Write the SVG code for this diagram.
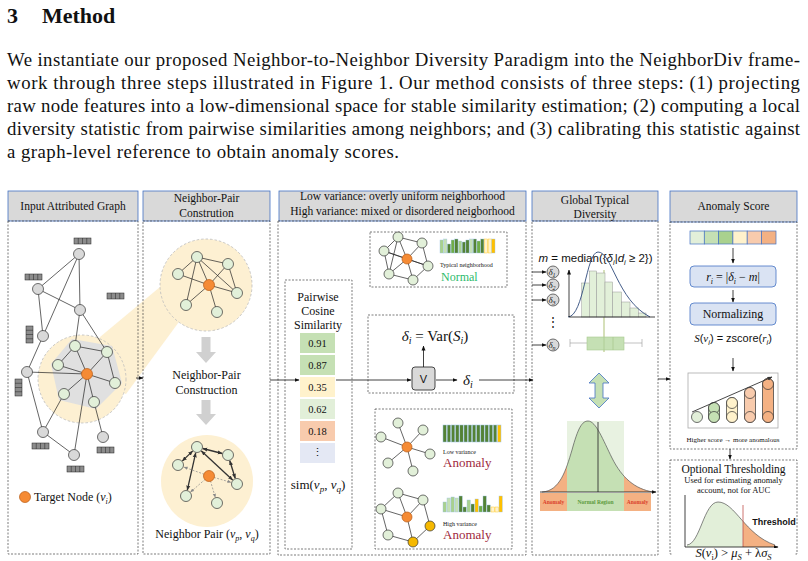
<svg xmlns="http://www.w3.org/2000/svg" width="808" height="561" viewBox="0 0 808 561">
<style>
text{font-family:"Liberation Serif","Times New Roman",serif;fill:#111}
.sans{font-family:"Liberation Sans",Arial,sans-serif}
.hdr{fill:#d9d9d9;stroke:#4472c4;stroke-width:0.8}
.dash{fill:none;stroke:#444;stroke-width:0.7;stroke-dasharray:2,1.5}
.e{stroke:#222;stroke-width:0.7;fill:none}
.gn{fill:#d9d9d9;stroke:#333;stroke-width:0.7}
.ln{fill:#e2f0d9;stroke:#333;stroke-width:0.7}
.on{fill:#f58b35;stroke:#b85a14;stroke-width:0.7}
.yn{fill:#f5b800;stroke:#333;stroke-width:0.7}
.fb{fill:#8c8c8c;stroke:#222;stroke-width:0.5}
.cn{stroke:#111;stroke-width:0.8;fill:none}
.hd{font-size:11.5px;text-anchor:middle}
.body{font-size:18.8px}
.dc{fill:#d9d9d9;stroke:#333;stroke-width:0.7}
.bx{fill:#dae3f3;stroke:#4472c4;stroke-width:0.8}
</style>
<defs>
<marker id="ah" viewBox="0 0 10 10" refX="9" refY="5" markerWidth="5" markerHeight="5" orient="auto-start-reverse" markerUnits="userSpaceOnUse"><path d="M0,1 L10,5 L0,9 z" fill="#111"/></marker>
<marker id="ah2" viewBox="0 0 10 10" refX="9" refY="5" markerWidth="5" markerHeight="5" orient="auto-start-reverse" markerUnits="userSpaceOnUse"><path d="M0,1 L10,5 L0,9 z" fill="#333"/></marker>
<marker id="ahg" viewBox="0 0 10 10" refX="9" refY="5" markerWidth="4" markerHeight="4" orient="auto" markerUnits="userSpaceOnUse"><path d="M0,1 L10,5 L0,9 z" fill="#888"/></marker>
<g id="fbh"><rect width="17" height="6" class="fb"/><path d="M4.25 0v6M8.5 0v6M12.75 0v6" stroke="#222" stroke-width="0.5"/></g>
<g id="fbv"><rect width="7" height="17" class="fb"/><path d="M0 4.25h7M0 8.5h7M0 12.75h7" stroke="#222" stroke-width="0.5"/></g>
<clipPath id="cL"><rect x="530" y="400" width="37" height="100"/></clipPath>
<clipPath id="cM"><rect x="567" y="400" width="57" height="100"/></clipPath>
<clipPath id="cR"><rect x="624" y="400" width="40" height="100"/></clipPath>
<clipPath id="tL"><rect x="680" y="490" width="63" height="60"/></clipPath>
<clipPath id="tR"><rect x="743" y="490" width="50" height="60"/></clipPath>
</defs>

<!-- Heading and paragraph -->
<g id="textblock">
<text x="7" y="23" font-size="22" font-weight="bold">3</text>
<text x="42" y="23" font-size="22" font-weight="bold">Method</text>
<text class="body" x="7" y="66" textLength="793" lengthAdjust="spacing">We instantiate our proposed Neighbor-to-Neighbor Diversity Paradigm into the NeighborDiv frame-</text>
<text class="body" x="7" y="89" textLength="793" lengthAdjust="spacing">work through three steps illustrated in Figure 1. Our method consists of three steps: (1) projecting</text>
<text class="body" x="7" y="112" textLength="793" lengthAdjust="spacing">raw node features into a low-dimensional space for stable similarity estimation; (2) computing a local</text>
<text class="body" x="7" y="135" textLength="793" lengthAdjust="spacing">diversity statistic from pairwise similarities among neighbors; and (3) calibrating this statistic against</text>
<text class="body" x="7" y="158" textLength="392" lengthAdjust="spacing">a graph-level reference to obtain anomaly scores.</text>
</g>

<!-- zoom beam -->
<g id="beam">
<polygon points="100,337 160,287 206,285 173,330 126,394 82,379" fill="#fdf0d2"/>
<circle cx="82" cy="379" r="44" fill="#fdf0d2" stroke="#bbb" stroke-width="0.8" stroke-dasharray="2.5,2"/>
<circle cx="206" cy="285" r="46" fill="#fdf0d2" stroke="#bbb" stroke-width="0.8" stroke-dasharray="2.5,2"/>
</g>

<!-- Panel 1 -->
<g id="panel1">
<rect class="hdr" x="8" y="191" width="130" height="30"/>
<text class="hd" x="73" y="210">Input Attributed Graph</text>
<rect class="dash" x="8" y="221" width="130" height="333"/>
<polygon points="72,339 112,346 122,383 96,409 59,400 51,364" fill="#e0e0e0"/>
<g class="e">
<line x1="79" y1="254" x2="38" y2="289"/><line x1="79" y1="254" x2="80" y2="310"/><line x1="79" y1="254" x2="43" y2="336"/>
<line x1="38" y1="289" x2="80" y2="310"/><line x1="38" y1="289" x2="43" y2="336"/><line x1="43" y1="336" x2="27" y2="372"/>
<line x1="80" y1="310" x2="75" y2="346"/><line x1="80" y1="310" x2="107" y2="352"/>
<line x1="27" y1="372" x2="87" y2="374"/><line x1="27" y1="372" x2="43" y2="432"/><line x1="43" y1="432" x2="64" y2="394"/>
<line x1="43" y1="432" x2="74" y2="455"/><line x1="74" y1="455" x2="87" y2="374"/><line x1="94" y1="402" x2="103" y2="437"/>
<line x1="87" y1="374" x2="75" y2="346"/><line x1="87" y1="374" x2="107" y2="352"/><line x1="87" y1="374" x2="58" y2="365"/>
<line x1="87" y1="374" x2="115" y2="383"/><line x1="87" y1="374" x2="64" y2="394"/><line x1="87" y1="374" x2="94" y2="402"/>
<line x1="75" y1="346" x2="107" y2="352"/><line x1="75" y1="346" x2="58" y2="365"/><line x1="107" y1="352" x2="115" y2="383"/>
</g>
<g id="p1nodes">
<circle id="nA" class="gn" cx="79" cy="254" r="5.5"/><circle id="nB" class="gn" cx="38" cy="289" r="5.5"/>
<circle id="nC" class="gn" cx="80" cy="310" r="5.5"/><circle id="nD" class="gn" cx="43" cy="336" r="5.5"/>
<circle id="nH" class="gn" cx="27" cy="372" r="5.5"/><circle id="nL" class="gn" cx="43" cy="432" r="5.5"/>
<circle id="nN" class="gn" cx="74" cy="455" r="5.5"/><circle id="nM" class="gn" cx="103" cy="437" r="5.5"/>
<circle id="nE" class="ln" cx="75" cy="346" r="5.5"/><circle id="nF" class="ln" cx="107" cy="352" r="5.5"/>
<circle id="nG" class="ln" cx="58" cy="365" r="5.5"/><circle id="nI" class="ln" cx="115" cy="383" r="5.5"/>
<circle id="nJ" class="ln" cx="64" cy="394" r="5.5"/><circle id="nK" class="ln" cx="94" cy="402" r="5.5"/>
<circle id="nO" class="on" cx="87" cy="374" r="5.5"/>
</g>
<use href="#fbh" x="74" y="238"/><use href="#fbh" x="25" y="274"/><use href="#fbh" x="107" y="293"/>
<use href="#fbv" x="26" y="326"/><use href="#fbv" x="15" y="379"/>
<use href="#fbh" x="32" y="443"/><use href="#fbh" x="97" y="447"/><use href="#fbh" x="67" y="466"/>
<circle class="on" cx="25" cy="497" r="5.5"/>
<text x="34" y="501" font-size="12">Target Node (<tspan font-style="italic">v</tspan><tspan font-style="italic" font-size="8" dy="2.5">i</tspan><tspan dy="-2.5">)</tspan></text>
</g>

<!-- Panel 2 -->
<g id="panel2">
<rect class="hdr" x="143" y="191" width="127" height="30"/>
<text class="hd" x="206.5" y="202">Neighbor-Pair</text>
<text class="hd" x="206.5" y="217">Constrution</text>
<rect class="dash" x="143" y="221" width="127" height="333"/>
<g class="e">
<line x1="197" y1="257" x2="228" y2="264"/><line x1="197" y1="257" x2="178" y2="274"/><line x1="197" y1="257" x2="209" y2="285"/>
<line x1="197" y1="257" x2="237" y2="293"/><line x1="197" y1="257" x2="186" y2="305"/><line x1="228" y1="264" x2="209" y2="285"/>
<line x1="228" y1="264" x2="237" y2="293"/><line x1="178" y1="274" x2="209" y2="285"/><line x1="209" y1="285" x2="237" y2="293"/>
<line x1="209" y1="285" x2="186" y2="305"/><line x1="209" y1="285" x2="217" y2="312"/>
</g>
<circle class="ln" cx="197" cy="257" r="5.5"/><circle class="ln" cx="228" cy="264" r="5.5"/><circle class="ln" cx="178" cy="274" r="5.5"/>
<circle class="ln" cx="237" cy="293" r="5.5"/><circle class="ln" cx="186" cy="305" r="5.5"/><circle class="ln" cx="217" cy="312" r="5.5"/>
<circle class="on" cx="209" cy="285" r="5.5"/>
<polygon points="201.5,337 210.5,337 210.5,352 216,352 206,363 196,352 201.5,352" fill="#d0d0d0"/>
<text x="206.5" y="379" font-size="12" text-anchor="middle">Neighbor-Pair</text>
<text x="206.5" y="394" font-size="12" text-anchor="middle">Construction</text>
<polygon points="201.5,400 210.5,400 210.5,414 216,414 206,425 196,414 201.5,414" fill="#d0d0d0"/>
<circle cx="207" cy="481" r="46" fill="#fdf0d2"/>
<g stroke="#333" stroke-width="1.3" marker-start="url(#ah2)" marker-end="url(#ah2)">
<line x1="202.8" y1="448.5" x2="222.2" y2="453.5"/><line x1="192.6" y1="451.1" x2="182.4" y2="460.9"/>
<line x1="201.4" y1="451.1" x2="232.6" y2="479.9"/><line x1="195.7" y1="452.9" x2="187.3" y2="490.1"/>
<line x1="229.8" y1="460.7" x2="235.2" y2="478.3"/>
</g>
<g stroke="#888" stroke-width="0.7" stroke-dasharray="2,1.5" marker-end="url(#ahg)">
<line x1="204.3" y1="474.3" x2="184" y2="467.1"/><line x1="213.8" y1="477.4" x2="231" y2="482.3"/>
<line x1="205.2" y1="479.3" x2="190.5" y2="492.1"/><line x1="210.4" y1="480.8" x2="215.3" y2="497.3"/>
</g>
<circle class="ln" cx="197" cy="447" r="5.5"/><circle class="ln" cx="228" cy="455" r="5.5"/><circle class="ln" cx="178" cy="465" r="5.5"/>
<circle class="ln" cx="237" cy="484" r="5.5"/><circle class="ln" cx="186" cy="496" r="5.5"/><circle class="ln" cx="217" cy="503" r="5.5"/>
<circle class="on" cx="209" cy="476" r="5.5"/>
<text x="207" y="538" font-size="12" text-anchor="middle">Neighbor Pair (<tspan font-style="italic">v</tspan><tspan font-style="italic" font-size="8" dy="2.5">p</tspan><tspan dy="-2.5">, </tspan><tspan font-style="italic">v</tspan><tspan font-style="italic" font-size="8" dy="2.5">q</tspan><tspan dy="-2.5">)</tspan></text>
</g>

<!-- Panel 3 -->
<g id="panel3">
<rect class="hdr" x="279" y="191" width="247" height="30"/>
<text class="hd" x="402.5" y="200" font-size="11.8">Low variance: overly uniform neighborhood</text>
<text class="hd" x="402.5" y="215" font-size="11.8">High variance: mixed or disordered neigborhood</text>
<rect class="dash" x="278" y="221" width="248" height="334"/>
<g id="typical">
<rect class="dash" x="370" y="232" width="137" height="55"/>
<g class="e">
<path d="M398,237 L422,243 L428,266 L413,280 L389,274 L384,251 Z"/>
<path d="M407,259 L398,237 M407,259 L422,243 M407,259 L384,251 M407,259 L428,266 M407,259 L389,274 M407,259 L413,280 M398,237 L389,274 M384,251 L428,266"/>
</g>
<circle class="ln" cx="398" cy="237" r="5"/><circle class="ln" cx="422" cy="243" r="5"/><circle class="ln" cx="384" cy="251" r="5"/>
<circle class="ln" cx="428" cy="266" r="5"/><circle class="ln" cx="389" cy="274" r="5"/><circle class="ln" cx="413" cy="280" r="5"/>
<circle class="on" cx="407" cy="259" r="5"/>
<g stroke="#9dc3e6" stroke-width="0.4">
<rect x="440" y="240" width="3.2" height="13" fill="#a9d18e"/>
<rect x="443.7" y="239" width="3.2" height="14" fill="#c5e0b4"/>
<rect x="447.4" y="244" width="3.2" height="9" fill="#548235"/>
<rect x="451.1" y="240" width="3.2" height="13" fill="#70ad47"/>
<rect x="454.8" y="239" width="3.2" height="14" fill="#548235"/>
<rect x="458.5" y="241" width="3.2" height="12" fill="#a9d18e"/>
<rect x="462.2" y="242" width="3.2" height="11" fill="#548235"/>
<rect x="465.9" y="240" width="3.2" height="13" fill="#548235"/>
<rect x="469.6" y="239" width="3.2" height="14" fill="#c5e0b4"/>
<rect x="473.3" y="239" width="3.2" height="14" fill="#548235"/>
<rect x="477" y="241" width="3.2" height="12" fill="#70ad47"/>
<rect x="480.7" y="239" width="3.2" height="14" fill="#548235"/>
<rect x="484.4" y="239" width="3.2" height="14" fill="#fff2cc" stroke="#ffc000"/>
<rect x="488.1" y="239" width="3.2" height="14" fill="#fff2cc" stroke="#ffc000"/>
<rect x="491.8" y="239" width="3.2" height="14" fill="#ffc000"/>
</g>
<text x="440" y="267" font-size="6">Typical neighborhood</text>
<text x="441" y="281" font-size="12" style="fill:#2dbb6b">Normal</text>
</g>
<g id="pairwise">
<rect class="dash" x="285" y="280" width="67" height="269"/>
<text x="318" y="301" font-size="12" text-anchor="middle">Pairwise</text>
<text x="318" y="315" font-size="12" text-anchor="middle">Cosine</text>
<text x="318" y="329" font-size="12" text-anchor="middle">Similarity</text>
<rect x="300" y="333" width="35" height="20" fill="#c5e0b4"/>
<rect x="300" y="355" width="35" height="20" fill="#c5e0b4"/>
<rect x="300" y="377" width="35" height="20" fill="#fff2cc"/>
<rect x="300" y="399" width="35" height="20" fill="#e2efd9"/>
<rect x="300" y="421" width="35" height="20" fill="#f8cbad"/>
<rect x="300" y="443" width="35" height="20" fill="#e4e8f4"/>
<g font-size="10.5" text-anchor="middle">
<text x="317.5" y="347">0.91</text><text x="317.5" y="369">0.87</text><text x="317.5" y="391">0.35</text>
<text x="317.5" y="413">0.62</text><text x="317.5" y="435">0.18</text><text x="317.5" y="456">⋮</text>
</g>
<text x="318" y="489" font-size="13" text-anchor="middle">sim(<tspan font-style="italic">v</tspan><tspan font-style="italic" font-size="9" dy="3">p</tspan><tspan dy="-3">, </tspan><tspan font-style="italic">v</tspan><tspan font-style="italic" font-size="9" dy="3">q</tspan><tspan dy="-3">)</tspan></text>
</g>
<g id="variance">
<rect class="dash" x="368" y="315" width="146" height="78"/>
<text x="435" y="341" font-size="15" text-anchor="middle"><tspan font-style="italic">δ</tspan><tspan font-style="italic" font-size="10" dy="3">i</tspan><tspan dy="-3"> = Var(</tspan><tspan font-style="italic">S</tspan><tspan font-style="italic" font-size="10" dy="3">i</tspan><tspan dy="-3">)</tspan></text>
<rect x="412" y="367" width="23" height="23" rx="3" fill="#d9d9d9" stroke="#333" stroke-width="0.9"/>
<text class="sans" x="423.5" y="383" font-size="11" text-anchor="middle">V</text>
<text x="463" y="385" font-size="15"><tspan font-style="italic">δ</tspan><tspan font-style="italic" font-size="10" dy="3">i</tspan></text>
</g>
<g id="anomalies">
<rect class="dash" x="375" y="409" width="137" height="140"/>
<g class="e">
<path d="M407,447 L398,423 M407,447 L423,430 M407,447 L381,437 M407,447 L430,454 M407,447 L388,463 M407,447 L413,471"/>
</g>
<circle class="ln" cx="398" cy="423" r="5"/><circle class="ln" cx="423" cy="430" r="5"/><circle class="ln" cx="381" cy="437" r="5"/>
<circle class="ln" cx="430" cy="454" r="5"/><circle class="ln" cx="388" cy="463" r="5"/><circle class="ln" cx="413" cy="471" r="5"/>
<circle class="on" cx="407" cy="447" r="5"/>
<g stroke="#9dc3e6" stroke-width="0.5" fill="#548235">
<rect x="443" y="425" width="3.4" height="17"/><rect x="447.2" y="425" width="3.4" height="17"/><rect x="451.4" y="425" width="3.4" height="17"/>
<rect x="455.6" y="425" width="3.4" height="17"/><rect x="459.8" y="425" width="3.4" height="17"/><rect x="464" y="425" width="3.4" height="17"/>
<rect x="468.2" y="425" width="3.4" height="17"/><rect x="472.4" y="425" width="3.4" height="17"/><rect x="476.6" y="425" width="3.4" height="17"/>
<rect x="480.8" y="425" width="3.4" height="17"/><rect x="485" y="425" width="3.4" height="17"/><rect x="489.2" y="425" width="3.4" height="17"/>
<rect x="493.4" y="425" width="3.4" height="17"/><rect x="497.6" y="425" width="3.4" height="17" fill="#ffc000"/>
</g>
<text x="443" y="454" font-size="6">Low variance</text>
<text x="443" y="467" font-size="13" style="fill:#a0283c">Anomaly</text>
<g class="e">
<path d="M398,493 L423,500 L430,526 L413,542 L388,535 L381,509 Z"/>
<path d="M407,517 L398,493 M407,517 L423,500 M407,517 L381,509 M407,517 L413,542"/>
</g>
<circle class="ln" cx="398" cy="493" r="5"/><circle class="ln" cx="423" cy="500" r="5"/><circle class="ln" cx="381" cy="509" r="5"/>
<circle class="yn" cx="430" cy="526" r="5"/><circle class="ln" cx="388" cy="535" r="5"/><circle class="yn" cx="413" cy="542" r="5"/>
<circle class="on" cx="407" cy="517" r="5"/>
<g stroke="#9dc3e6" stroke-width="0.4">
<rect x="443" y="502" width="3.3" height="10" fill="#a9d18e"/>
<rect x="447" y="498" width="3.3" height="14" fill="#c5e0b4"/>
<rect x="451" y="497" width="3.3" height="15" fill="#a9d18e"/>
<rect x="455" y="498" width="3.3" height="14" fill="#c5e0b4"/>
<rect x="459" y="496" width="3.3" height="16" fill="#548235"/>
<rect x="463" y="507" width="3.3" height="5" fill="#548235"/>
<rect x="467" y="500" width="3.3" height="12" fill="#a9d18e"/>
<rect x="471" y="504" width="3.3" height="8" fill="#548235"/>
<rect x="475" y="499" width="3.3" height="13" fill="#ffc000"/>
<rect x="479" y="506" width="3.3" height="6" fill="#70ad47"/>
<rect x="483" y="496" width="3.3" height="16" fill="#548235"/>
<rect x="487" y="505" width="3.3" height="7" fill="#548235"/>
<rect x="491" y="507" width="3.3" height="5" fill="#fff2cc" stroke="#ffc000"/>
<rect x="495" y="507" width="3.3" height="5" fill="#fff2cc" stroke="#ffc000"/>
<rect x="499" y="496" width="3.3" height="16" fill="#ffc000"/>
</g>
<text x="443" y="526" font-size="6">High variance</text>
<text x="443" y="539" font-size="13" style="fill:#a0283c">Anomaly</text>
</g>
</g>

<!-- Panel 4 -->
<g id="panel4">
<rect class="hdr" x="532" y="191" width="126" height="30"/>
<text class="hd" x="595" y="204">Global Typical</text>
<text class="hd" x="595" y="218">Diversity</text>
<rect class="dash" x="532" y="221" width="126" height="334"/>
<text class="sans" x="595.5" y="262" font-size="11.5" text-anchor="middle"><tspan font-style="italic">m</tspan> = median({<tspan font-style="italic">δ</tspan><tspan font-style="italic" font-size="7.5" dy="2.5">i</tspan><tspan dy="-2.5">|</tspan><tspan font-style="italic">d</tspan><tspan font-style="italic" font-size="7.5" dy="2.5">i</tspan><tspan dy="-2.5"> ≥ 2})</tspan></text>
<g id="deltas">
<circle class="dc" cx="553" cy="272" r="6"/><circle class="dc" cx="553" cy="285" r="6"/>
<circle class="dc" cx="553" cy="300" r="6"/><circle class="dc" cx="553" cy="345" r="6"/>
<g font-size="9" font-style="italic" text-anchor="middle">
<text x="552" y="275">δ<tspan font-size="6" dy="1.5">1</tspan></text>
<text x="552" y="288">δ<tspan font-size="6" dy="1.5">2</tspan></text>
<text x="552" y="303">δ<tspan font-size="6" dy="1.5">3</tspan></text>
<text x="552" y="348">δ<tspan font-size="6" dy="1.5">n</tspan></text>
</g>
<text x="553" y="326" font-size="12" text-anchor="middle">⋮</text>
</g>
<g id="hist">
<line x1="604" y1="270" x2="604" y2="352" stroke="#c9d6a3" stroke-width="1.5"/>
<g fill="#e2f0d9" stroke="#999" stroke-width="0.5">
<rect x="581.7" y="283" width="7.6" height="34"/><rect x="589.3" y="271" width="7.4" height="46"/>
<rect x="596.7" y="273" width="8.3" height="44"/><rect x="605" y="282" width="7.7" height="35"/>
<rect x="612.7" y="292" width="9" height="25"/><rect x="621.7" y="302" width="8.3" height="15"/>
<rect x="630" y="308" width="8.3" height="9"/><rect x="638.3" y="313" width="7.7" height="4"/>
</g>
<path d="M568,317 C584,316 586,252 598,252 C612,252 617,300 650,317" fill="none" stroke="#2f4b7c" stroke-width="0.9"/>
<line x1="569" y1="317" x2="569" y2="270" class="cn" marker-end="url(#ah)"/>
<line x1="569" y1="317" x2="655" y2="317" class="cn"/>
<g stroke="#999" stroke-width="0.6">
<line x1="570" y1="343" x2="587" y2="343"/><line x1="624" y1="343" x2="642" y2="343"/>
<line x1="570" y1="339" x2="570" y2="347"/><line x1="642" y1="339" x2="642" y2="347"/>
</g>
<rect x="587" y="337" width="37" height="13" fill="#c5e0b4" stroke="#a9c98f" stroke-width="0.6"/>
<line x1="604" y1="337" x2="604" y2="350" stroke="#a9c98f" stroke-width="0.8"/>
<line x1="613" y1="337" x2="613" y2="350" stroke="#a9c98f" stroke-width="0.8"/>
</g>
<polygon points="599,373 609,383 603,383 603,398 609,398 599,408 589,398 595,398 595,383 589,383" fill="#c5e0b4" stroke="#4472c4" stroke-width="0.8"/>
<g id="dist">
<rect x="567" y="421" width="57" height="71" fill="#e2efd9" opacity="0.8"/>
<path d="M542,492 C560,491 566,470 572,450 C578,428 582,421 588,421 C596,421 603,440 612,458 C622,478 635,489 653,492 Z" fill="#f4b183" clip-path="url(#cL)"/>
<path d="M542,492 C560,491 566,470 572,450 C578,428 582,421 588,421 C596,421 603,440 612,458 C622,478 635,489 653,492 Z" fill="#c5e0b4" clip-path="url(#cM)"/>
<path d="M542,492 C560,491 566,470 572,450 C578,428 582,421 588,421 C596,421 603,440 612,458 C622,478 635,489 653,492 Z" fill="#f4b183" clip-path="url(#cR)"/>
<path d="M542,492 C560,491 566,470 572,450 C578,428 582,421 588,421 C596,421 603,440 612,458 C622,478 635,489 653,492" fill="none" stroke="#555" stroke-width="0.7"/>
<line x1="598" y1="422" x2="598" y2="492" stroke="#333" stroke-width="0.9"/>
<line x1="540" y1="492" x2="656" y2="492" class="cn" marker-end="url(#ah)"/>
<rect x="540" y="493" width="27" height="18" fill="#f4b183"/>
<rect x="567" y="493" width="57" height="18" fill="#c5e0b4"/>
<rect x="624" y="493" width="27" height="18" fill="#f4b183"/>
<g class="sans" font-size="5.5" font-weight="bold" text-anchor="middle">
<text x="553.5" y="504" style="fill:#d9402a">Anomaly</text>
<text x="595.5" y="504" style="fill:#5b9a3c">Normal Region</text>
<text x="637.5" y="504" style="fill:#d9402a">Anomaly</text>
</g>
</g>
</g>

<!-- Panel 5 -->
<g id="panel5">
<rect class="hdr" x="670" y="191" width="127" height="31"/>
<text class="hd" x="733.5" y="210">Anomaly Score</text>
<rect class="dash" x="670" y="222" width="127" height="227"/>
<g stroke="#4472c4" stroke-width="0.7">
<rect x="690" y="231" width="14.3" height="13" fill="#e2efd9"/><rect x="704.3" y="231" width="14.3" height="13" fill="#c5e0b4"/>
<rect x="718.6" y="231" width="14.3" height="13" fill="#a9d18e"/><rect x="732.9" y="231" width="14.3" height="13" fill="#fff2cc"/>
<rect x="747.2" y="231" width="14.3" height="13" fill="#f8cbad"/><rect x="761.5" y="231" width="14.5" height="13" fill="#f4b183"/>
</g>
<rect class="bx" x="690" y="266" width="86" height="21" rx="4"/>
<text x="733" y="281" font-size="12" text-anchor="middle"><tspan font-style="italic">r</tspan><tspan font-style="italic" font-size="8" dy="2.5">i</tspan><tspan dy="-2.5"> = |</tspan><tspan font-style="italic">δ</tspan><tspan font-style="italic" font-size="8" dy="2.5">i</tspan><tspan dy="-2.5"> − </tspan><tspan font-style="italic">m</tspan>|</text>
<rect class="bx" x="690" y="303" width="86" height="22" rx="4"/>
<text x="733" y="318" font-size="12" text-anchor="middle">Normalizing</text>
<text class="sans" x="733" y="342" font-size="11" text-anchor="middle"><tspan font-style="italic" font-family="Liberation Serif">S</tspan>(<tspan font-style="italic" font-family="Liberation Serif">v</tspan><tspan font-style="italic" font-size="7.5" dy="2.5">i</tspan><tspan dy="-2.5">) = zscore(</tspan><tspan font-style="italic" font-family="Liberation Serif">r</tspan><tspan font-style="italic" font-size="7.5" dy="2.5">i</tspan><tspan dy="-2.5">)</tspan></text>
<rect x="688" y="373" width="90" height="55" fill="#fff" stroke="#aaa" stroke-width="0.8"/>
<circle cx="697" cy="417" r="5.5" fill="#e2efd9" stroke="#333" stroke-width="0.7"/>
<g stroke="#333" stroke-width="0.7">
<rect x="708.5" y="402.5" width="11" height="20" rx="5.5" fill="#c5e0b4"/>
<circle cx="714" cy="408" r="5.5" fill="#c5e0b4"/><circle cx="714" cy="417" r="5.5" fill="#c5e0b4"/>
<rect x="726.5" y="397.5" width="11" height="25" rx="5.5" fill="#fff2cc"/>
<circle cx="732" cy="403" r="5.5" fill="#fff2cc"/><circle cx="732" cy="417" r="5.5" fill="#fff2cc"/>
<rect x="744.5" y="387.5" width="11" height="35" rx="5.5" fill="#f8cbad"/>
<circle cx="750" cy="393" r="5.5" fill="#f8cbad"/><circle cx="750" cy="417" r="5.5" fill="#f8cbad"/>
<rect x="762.5" y="378.5" width="11" height="44" rx="5.5" fill="#f4b183"/>
<circle cx="768" cy="384" r="5.5" fill="#f4b183"/><circle cx="768" cy="417" r="5.5" fill="#f4b183"/>
</g>
<line x1="692" y1="412" x2="772" y2="377" stroke="#333" stroke-width="0.9" marker-end="url(#ah2)"/>
<text x="733" y="442" font-size="7" text-anchor="middle">Higher score → more anomalous</text>
<g id="thresholding">
<rect class="dash" x="670" y="460" width="127" height="94"/>
<text x="733.5" y="473" font-size="11.5" text-anchor="middle">Optional Thresholding</text>
<text x="733.5" y="483" font-size="8.5" text-anchor="middle">Used for estimating anomaly</text>
<text x="733.5" y="493" font-size="8.5" text-anchor="middle">account, not for AUC</text>
<path d="M687,545 C700,544 704,502 718,502 C735,502 745,535 775,545 L775,547 L687,547 Z" fill="#e2efd9" clip-path="url(#tL)"/>
<path d="M687,545 C700,544 704,502 718,502 C735,502 745,535 775,545 L775,547 L687,547 Z" fill="#f4b183" clip-path="url(#tR)"/>
<path d="M687,545 C700,544 704,502 718,502 C735,502 745,535 775,545" fill="none" stroke="#555" stroke-width="0.7"/>
<line x1="743" y1="505" x2="743" y2="547" stroke="#c0504d" stroke-width="0.8"/>
<line x1="685" y1="495" x2="685" y2="547" class="cn"/>
<line x1="685" y1="547" x2="778" y2="547" class="cn" marker-end="url(#ah)"/>
<text class="sans" x="774" y="525" font-size="9" font-weight="bold" text-anchor="middle">Threshold</text>
</g>
</g>
<rect x="672" y="548" width="123" height="12" fill="#fff"/>
<text x="733.5" y="557" font-size="12.5" text-anchor="middle"><tspan font-style="italic">S</tspan>(<tspan font-style="italic">v</tspan><tspan font-size="8.5" dy="2.5">i</tspan><tspan dy="-2.5">) &gt; </tspan><tspan font-style="italic">μ</tspan><tspan font-style="italic" font-size="8.5" dy="2.5">S</tspan><tspan dy="-2.5"> + λ</tspan><tspan font-style="italic">σ</tspan><tspan font-style="italic" font-size="8.5" dy="2.5">S</tspan></text>

<!-- Connectors -->
<g id="connectors" class="cn">
<line x1="136" y1="378" x2="143" y2="378" marker-end="url(#ah)"/>
<line x1="270" y1="380" x2="299" y2="380" marker-end="url(#ah)"/>
<line x1="336" y1="380" x2="411" y2="380" marker-end="url(#ah)"/>
<line x1="423.5" y1="367" x2="423.5" y2="346" marker-end="url(#ah)"/>
<line x1="436" y1="380" x2="457" y2="380" marker-end="url(#ah)"/>
<line x1="479" y1="380" x2="533" y2="380" marker-end="url(#ah)"/>
<line x1="532" y1="272" x2="546" y2="272" marker-end="url(#ah)"/>
<line x1="532" y1="285" x2="546" y2="285" marker-end="url(#ah)"/>
<line x1="532" y1="300" x2="546" y2="300" marker-end="url(#ah)"/>
<line x1="532" y1="345" x2="546" y2="345" marker-end="url(#ah)"/>
<line x1="658" y1="379" x2="670" y2="379" marker-end="url(#ah)"/>
<line x1="733" y1="248" x2="733" y2="263" marker-end="url(#ah)"/>
<line x1="733" y1="290" x2="733" y2="302" marker-end="url(#ah)"/>
<line x1="733" y1="358" x2="733" y2="371" marker-end="url(#ah)"/>
<line x1="730" y1="449" x2="730" y2="459" marker-end="url(#ah)"/>
</g>
</svg>
